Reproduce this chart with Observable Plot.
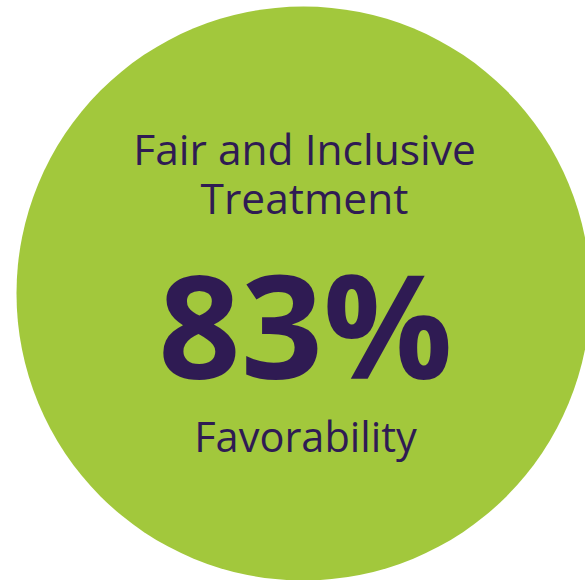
<!DOCTYPE html>
<html>
<head>
<meta charset="utf-8">
<script src="https://cdn.jsdelivr.net/npm/d3@7"></script>
<script src="https://cdn.jsdelivr.net/npm/@observablehq/plot@0.6"></script>
<style>
  html, body { margin: 0; padding: 0; background: #ffffff; }
  #chart svg { display: block; }
</style>
</head>
<body>
<div id="chart"></div>
<script>
// Data
const titleLines = ["Fair and Inclusive", "Treatment"];
const favorability = [83];
const subtitle = ["Favorability"];

const W = 585, H = 580;
const cx = 303, cy = 293, R = 287;
const green = "#a2c83c";
const purple = "#2f1b53";
const font = "'Open Sans', 'Noto Sans', sans-serif";

const plot = Plot.plot({
  width: W,
  height: H,
  margin: 0,
  x: {domain: [0, W], range: [0, W], axis: null},
  y: {domain: [0, H], range: [0, H], axis: null},
  style: {background: "#ffffff", fontFamily: font, overflow: "hidden"},
  marks: [
    Plot.dot([0], {x: () => cx, y: () => cy, r: R, fill: green, stroke: "none"}),
    Plot.text(titleLines, {
      x: () => cx + 1,
      y: (d, i) => 164 + i * 49,
      text: d => d,
      fill: purple,
      fontSize: 42.5,
      fontFamily: font,
      textAnchor: "middle",
      lineAnchor: "bottom"
    }),
    Plot.text(favorability, {
      x: () => cx + 2,
      y: () => 378,
      text: d => `${d}%`,
      fill: purple,
      fontSize: 144,
      fontWeight: 700,
      fontFamily: font,
      textAnchor: "middle",
      lineAnchor: "bottom"
    }),
    Plot.text(subtitle, {
      x: () => cx + 2,
      y: () => 451,
      text: d => d,
      fill: purple,
      fontSize: 41.5,
      fontFamily: font,
      textAnchor: "middle",
      lineAnchor: "bottom"
    })
  ]
});
document.getElementById("chart").appendChild(plot);
</script>
</body>
</html>
